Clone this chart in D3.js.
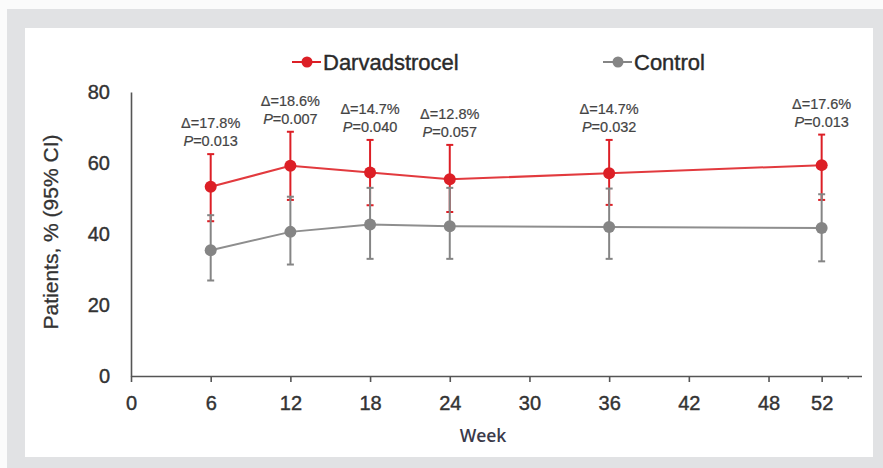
<!DOCTYPE html>
<html>
<head>
<meta charset="utf-8">
<script src="https://cdn.jsdelivr.net/npm/d3@7"></script>
<style>
    body { margin: 0; background: #fbfbfb; }
    text { font-family: "Liberation Sans", Arial, sans-serif; }
</style>
</head>
<body>
<div id="chart"></div>
<script>

//weeks measured
const weeks = [6, 12, 18, 24, 36, 52];

//darvadstrocel: value and 95% CI
const darvValues = [53.3, 59.2, 57.3, 55.4, 57.1, 59.4];
const darvLow = [43.6, 49.6, 48.1, 46.2, 48.2, 49.6];
const darvHigh = [62.5, 68.8, 66.5, 65.1, 66.5, 68.0];

//control: value and 95% CI
const ctrlValues = [35.4, 40.6, 42.7, 42.2, 42.0, 41.7];
const ctrlLow = [26.9, 31.4, 33.0, 33.0, 33.0, 32.3];
const ctrlHigh = [45.3, 50.5, 53.0, 53.0, 52.8, 51.2];

//difference labels
const deltaLabels = ["17.8%", "18.6%", "14.7%", "12.8%", "14.7%", "17.6%"];
const pLabels = ["0.013", "0.007", "0.040", "0.057", "0.032", "0.013"];

//tick labels
const xTicks = [0, 6, 12, 18, 24, 30, 36, 42, 48, 52];
const xMinorTicks = [54];
const yTicks = [0, 20, 40, 60, 80];

const seriesNames = ["Darvadstrocel", "Control"];

createChart();

function createChart() {

    const width = 883;
    const height = 468;

    const red = "#dc1f26";
    const gray = "#858585";
    const textColor = "#333";

    const svg = d3.select("#chart")
        .append("svg")
        .attr("width", width)
        .attr("height", height);

    //gray frame with white panel
    svg.append("rect")
        .attr("x", 7)
        .attr("y", 9)
        .attr("width", width - 7)
        .attr("height", height - 9)
        .attr("fill", "#e1e2e4");

    svg.append("rect")
        .attr("x", 25)
        .attr("y", 28)
        .attr("width", 848)
        .attr("height", 429)
        .attr("fill", "#ffffff");

    //scales
    const xScale = d3.scaleLinear()
        .domain([0, 55])
        .range([131, 861.5]);

    const yScale = d3.scaleLinear()
        .domain([0, 80])
        .range([376, 92]);

    //x axis
    const xAxis = svg.append("g")
        .attr("transform", "translate(0," + yScale(0) + ")")
        .call(d3.axisBottom(xScale)
            .tickValues(xTicks)
            .tickFormat(d3.format("d"))
            .tickSize(6)
            .tickSizeOuter(0)
            .tickPadding(14));

    xAxis.select(".domain")
        .attr("stroke", "#555")
        .attr("stroke-width", 1.6);

    xAxis.selectAll(".tick line")
        .attr("stroke", "#555")
        .attr("stroke-width", 1.6);

    xAxis.selectAll("text")
        .attr("fill", textColor)
        .attr("stroke", textColor)
        .attr("stroke-width", 0.4)
        .style("font-size", "20px");

    //small unlabelled tick near the end
    xAxis.selectAll(".minor")
        .data(xMinorTicks)
        .enter()
        .append("line")
        .attr("class", "minor")
        .attr("x1", function(d) {return xScale(d)})
        .attr("x2", function(d) {return xScale(d)})
        .attr("y1", 0)
        .attr("y2", 3)
        .attr("stroke", "#555")
        .attr("stroke-width", 1.2);

    //y axis
    const yAxis = svg.append("g")
        .attr("transform", "translate(" + xScale(0) + ",0)")
        .call(d3.axisLeft(yScale)
            .tickValues(yTicks)
            .tickSize(0)
            .tickPadding(21));

    yAxis.select(".domain")
        .attr("stroke", "#555")
        .attr("stroke-width", 1.6);

    yAxis.selectAll("text")
        .attr("fill", textColor)
        .attr("stroke", textColor)
        .attr("stroke-width", 0.4)
        .style("font-size", "20px");

    //axis titles
    svg.append("text")
        .attr("x", 483)
        .attr("y", 442)
        .attr("text-anchor", "middle")
        .attr("fill", "#3a3a4a")
        .style("font-family", "'Open Sans', sans-serif")
        .style("font-weight", "600")
        .style("font-size", "17.5px")
        .text("Week");

    svg.append("text")
        .attr("transform", "rotate(-90)")
        .attr("x", -232)
        .attr("y", 58)
        .attr("text-anchor", "middle")
        .attr("fill", textColor)
        .attr("stroke", textColor)
        .attr("stroke-width", 0.3)
        .style("font-size", "21px")
        .text("Patients, % (95% CI)");

    const series = [
        { name: seriesNames[1], values: ctrlValues, low: ctrlLow, high: ctrlHigh, color: gray, lineColor: "#8e8e8e" },
        { name: seriesNames[0], values: darvValues, low: darvLow, high: darvHigh, color: red, lineColor: "#e23a3e" }
    ];

    //draw red first, gray on top
    const drawOrder = [series[1], series[0]];

    const line = d3.line()
        .x(function(d) {return xScale(d.week)})
        .y(function(d) {return yScale(d.value)});

    drawOrder.forEach(function(s) {

        const points = weeks.map(function(w, i) {
            return { week: w, value: s.values[i], low: s.low[i], high: s.high[i] };
        });

        const g = svg.append("g");

        //error bars
        g.selectAll(".err")
            .data(points)
            .enter()
            .append("line")
            .attr("x1", function(d) {return xScale(d.week)})
            .attr("x2", function(d) {return xScale(d.week)})
            .attr("y1", function(d) {return yScale(d.low)})
            .attr("y2", function(d) {return yScale(d.high)})
            .attr("stroke", s.color)
            .attr("stroke-width", 2);

        //caps
        ["low", "high"].forEach(function(key) {
            g.selectAll(".cap-" + key)
                .data(points)
                .enter()
                .append("line")
                .attr("x1", function(d) {return xScale(d.week) - 3.5})
                .attr("x2", function(d) {return xScale(d.week) + 3.5})
                .attr("y1", function(d) {return yScale(d[key])})
                .attr("y2", function(d) {return yScale(d[key])})
                .attr("stroke", s.color)
                .attr("stroke-width", 2);
        });

        //series line
        g.append("path")
            .datum(points)
            .attr("fill", "none")
            .attr("stroke", s.lineColor)
            .attr("stroke-width", 2)
            .attr("d", line);

        //markers
        g.selectAll("circle")
            .data(points)
            .enter()
            .append("circle")
            .attr("cx", function(d) {return xScale(d.week)})
            .attr("cy", function(d) {return yScale(d.value)})
            .attr("r", 6)
            .attr("fill", s.color);
    });

    //difference annotations above darvadstrocel bars
    const notes = svg.append("g")
        .attr("fill", "#444")
        .attr("stroke", "#444")
        .attr("stroke-width", 0.2)
        .style("font-size", "14.5px");

    weeks.forEach(function(w, i) {
        const top = yScale(darvHigh[i]);

        notes.append("text")
            .attr("x", xScale(w))
            .attr("y", top - 26)
            .attr("text-anchor", "middle")
            .text("\u0394=" + deltaLabels[i]);

        const pText = notes.append("text")
            .attr("x", xScale(w))
            .attr("y", top - 8)
            .attr("text-anchor", "middle");

        pText.append("tspan")
            .style("font-style", "italic")
            .text("P");

        pText.append("tspan")
            .text("=" + pLabels[i]);
    });

    //legend
    const legendItems = [
        { name: seriesNames[0], color: red, x: 292 },
        { name: seriesNames[1], color: gray, x: 603 }
    ];

    const legend = svg.append("g")
        .attr("transform", "translate(0,62)");

    legendItems.forEach(function(d) {
        legend.append("line")
            .attr("x1", d.x)
            .attr("x2", d.x + 29)
            .attr("y1", 0)
            .attr("y2", 0)
            .attr("stroke", d.color)
            .attr("stroke-width", 2);

        legend.append("circle")
            .attr("cx", d.x + 15)
            .attr("cy", 0)
            .attr("r", 5.5)
            .attr("fill", d.color);

        legend.append("text")
            .attr("x", d.x + 31)
            .attr("y", 8)
            .attr("fill", "#2a2a2a")
            .attr("stroke", "#2a2a2a")
            .attr("stroke-width", 0.4)
            .style("font-size", "22px")
            .text(d.name);
    });
}

</script>
</body>
</html>
